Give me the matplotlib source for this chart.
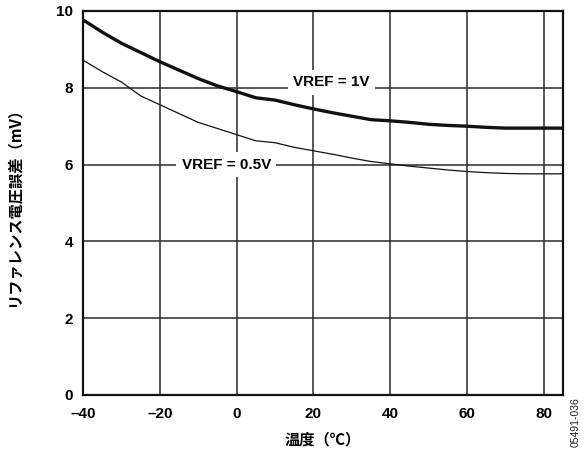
import matplotlib
matplotlib.use("Agg")
import matplotlib.pyplot as plt

plt.rcParams['font.family'] = ['Liberation Sans', 'Noto Sans CJK JP', 'DejaVu Sans']

temps = [-40, -35, -30, -25, -20, -15, -10, -5, 0, 5, 10, 15, 20, 25, 30,
         35, 40, 45, 50, 55, 60, 65, 70, 75, 80, 85]
err_1v = [9.77, 9.45, 9.16, 8.92, 8.68, 8.46, 8.24, 8.05, 7.90, 7.74, 7.68,
          7.56, 7.45, 7.35, 7.26, 7.17, 7.14, 7.10, 7.05, 7.02, 7.00, 6.97,
          6.95, 6.95, 6.95, 6.95]
err_05v = [8.72, 8.42, 8.15, 7.79, 7.56, 7.33, 7.10, 6.94, 6.78, 6.62, 6.57,
           6.45, 6.36, 6.27, 6.17, 6.08, 6.02, 5.96, 5.91, 5.86, 5.82, 5.79,
           5.77, 5.76, 5.76, 5.76]
x_ticks = [-40, -20, 0, 20, 40, 60, 80]
y_ticks = [0, 2, 4, 6, 8, 10]

fig = plt.figure(figsize=(5.85, 4.53), dpi=100)
ax = fig.add_axes([83 / 585, 1 - 395 / 453, (563 - 83) / 585, (395 - 11) / 453])

ax.set_xlim(-40, 85)
ax.set_ylim(0, 10)
ax.set_xticks(x_ticks)
ax.set_yticks(y_ticks)
ax.set_xticklabels(["–40", "–20", "0", "20", "40", "60", "80"])
ax.grid(True, color='#2a2a2a', linewidth=1.1, zorder=1)
ax.tick_params(length=0, labelsize=11)
ax.tick_params(axis='x', pad=9)
ax.tick_params(axis='y', pad=7)
for lab in ax.get_xticklabels() + ax.get_yticklabels():
    lab.set_fontweight('bold')
for s in ax.spines.values():
    s.set_linewidth(1.6)
    s.set_color('#111111')

ax.plot(temps, err_1v, color='#111111', linewidth=2.4, zorder=3,
        solid_capstyle='butt')
ax.plot(temps, err_05v, color='#111111', linewidth=0.9, zorder=3)

box = dict(facecolor='white', edgecolor='none', pad=4)
ax.text(24.7, 8.15, "VREF = 1V", ha='center', va='center', fontsize=11,
        fontweight='bold', bbox=box, zorder=4)
ax.text(-2.7, 6.0, "VREF = 0.5V", ha='center', va='center', fontsize=11,
        fontweight='bold', bbox=box, zorder=4)

ax.set_xlabel("温度（℃）", fontsize=11, fontweight='bold',
              family=['Noto Sans CJK JP', 'DejaVu Sans'], labelpad=7)
ax.set_ylabel("リファレンス電圧誤差（mV）", fontsize=11, fontweight='bold',
              family=['Noto Sans CJK JP', 'DejaVu Sans'], labelpad=25)

fig.text(576 / 585, 1 - 422 / 453, "05491-036", rotation=90, fontsize=7.5,
         ha='center', va='center', color='#222222')

fig.savefig("out.png", dpi=100, facecolor='white')
